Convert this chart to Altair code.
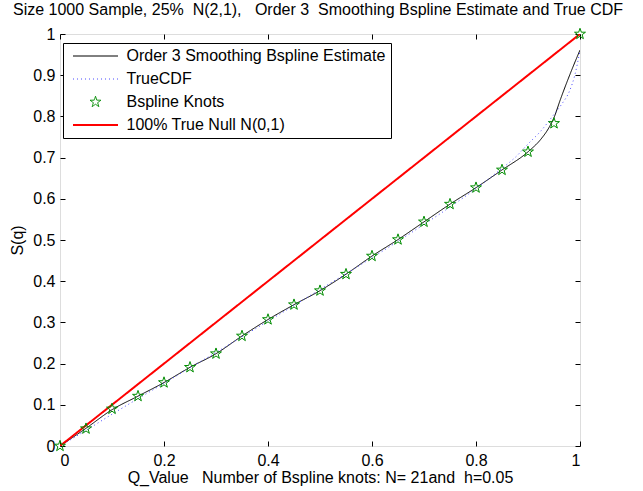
import math
import altair as alt
import pandas as pd

# Bspline knot locations and fitted values
knot_q = [0.00, 0.05, 0.10, 0.15, 0.20, 0.25, 0.30, 0.35, 0.40, 0.45, 0.50,
          0.55, 0.60, 0.65, 0.70, 0.75, 0.80, 0.85, 0.90, 0.95, 1.00]
knot_s = [0.000, 0.042, 0.090, 0.121, 0.154, 0.191, 0.224, 0.267, 0.307, 0.343, 0.377,
          0.417, 0.461, 0.501, 0.544, 0.587, 0.627, 0.670, 0.714, 0.783, 1.000]

# Order 3 smoothing Bspline estimate
est_q = [0.00, 0.05, 0.10, 0.15, 0.20, 0.25, 0.30, 0.35, 0.40, 0.45, 0.50,
         0.55, 0.60, 0.65, 0.70, 0.75, 0.80, 0.85, 0.90, 0.925, 0.94, 0.95,
         0.962, 0.981, 1.00]
est_s = [0.000, 0.043, 0.088, 0.121, 0.154, 0.191, 0.224, 0.267, 0.307, 0.343, 0.377,
         0.417, 0.461, 0.501, 0.544, 0.587, 0.627, 0.670, 0.714, 0.745, 0.772, 0.797,
         0.840, 0.903, 0.961]

# True CDF of the q-values
true_q = [0.00, 0.05, 0.10, 0.15, 0.20, 0.25, 0.30, 0.35, 0.40, 0.45, 0.50,
          0.55, 0.60, 0.65, 0.70, 0.75, 0.80, 0.85, 0.875, 0.90, 0.925, 0.95,
          0.965, 0.98, 0.99, 1.00]
true_s = [0.000, 0.038, 0.077, 0.115, 0.152, 0.190, 0.227, 0.265, 0.303, 0.341, 0.380,
          0.418, 0.457, 0.497, 0.538, 0.580, 0.625, 0.674, 0.700, 0.733, 0.765, 0.805,
          0.830, 0.862, 0.900, 0.960]

# 100% true null N(0,1): uniform q-values
null_q = [0.0, 1.0]
null_s = [0.0, 1.0]

x_ticks = [0, 0.2, 0.4, 0.6, 0.8, 1]
y_ticks = [0, 0.1, 0.2, 0.3, 0.4, 0.5, 0.6, 0.7, 0.8, 0.9, 1]

series_names = ["Order 3 Smoothing Bspline Estimate", "TrueCDF",
                "Bspline Knots", "100% True Null N(0,1)"]
series_colors = ["#000000", "#4a4aff", "#008c00", "#ff0000"]
series_dash = [[1, 0], [1, 3], [1, 0], [1, 0]]
series_width = [1, 1, 1, 2]


def star_path(outer, inner):
    pts = []
    for k in range(10):
        a = math.radians(-90 + 36 * k)
        r = outer if k % 2 == 0 else inner
        pts.append(f"{r * math.cos(a):.4f},{r * math.sin(a):.4f}")
    return "M" + "L".join(pts) + "Z"


line_sym = "M-4.5,0L4.5,0"
star_sym = star_path(1.15, 0.45)
series_shapes = [line_sym, line_sym, star_sym, line_sym]


def frame(name, qs, ss):
    return pd.DataFrame({"series": name, "q": qs, "s": ss, "i": range(len(qs))})


est_df = frame(series_names[0], est_q, est_s)
true_df = frame(series_names[1], true_q, true_s)
knot_df = frame(series_names[2], knot_q, knot_s)
null_df = frame(series_names[3], null_q, null_s)

font = "Liberation Sans"

x_scale = alt.Scale(domain=[0, 1], nice=False, zero=False)
y_scale = alt.Scale(domain=[0, 1], nice=False, zero=False)

color = alt.Color(
    "series:N",
    scale=alt.Scale(domain=series_names, range=series_colors),
    legend=alt.Legend(
        title=None, orient="none", legendX=3, legendY=9,
        symbolSize=100, symbolOffset=19.5, labelOffset=23,
        labelFont=font, labelFontSize=16, labelColor="#000000",
        labelLimit=400, padding=5, rowPadding=7,
        strokeColor="#000000", fillColor="#ffffff",
    ),
)
dash = alt.StrokeDash("series:N", scale=alt.Scale(domain=series_names, range=series_dash))
width = alt.StrokeWidth("series:N",
                        scale=alt.Scale(type="ordinal", domain=series_names, range=series_width))
shape = alt.Shape("series:N", scale=alt.Scale(domain=series_names, range=series_shapes))

# Inward-pointing ticks: short dashes at the start of each grid line
axis_common = dict(ticks=False, domain=False, grid=True, gridDash=[5, 2000],
                   gridColor="#000000", gridOpacity=1, gridWidth=1,
                   labelFont=font, labelFontSize=16, labelColor="#000000",
                   titleFont=font, titleFontSize=16, titleColor="#000000",
                   titleFontWeight="normal")

x_bottom = alt.Axis(orient="bottom", values=x_ticks, format=".1~f", labelPadding=6,
                    title="Q_Value\u00a0\u00a0 Number of Bspline knots: N= 21and\u00a0 h=0.05",
                    titlePadding=1, **axis_common)
y_left = alt.Axis(orient="left", values=y_ticks, format=".1~f", labelPadding=5,
                  title="S(q)", titlePadding=7, **axis_common)
x_top = alt.Axis(orient="top", values=x_ticks, labels=False, title=None, **axis_common)
y_right = alt.Axis(orient="right", values=y_ticks, labels=False, title=None, **axis_common)


def line_layer(df, interp, xa, ya):
    return alt.Chart(df).mark_line(interpolate=interp, clip=True).encode(
        x=alt.X("q:Q", scale=x_scale, axis=xa),
        y=alt.Y("s:Q", scale=y_scale, axis=ya),
        order="i:Q",
        color=color,
        strokeDash=dash,
        strokeWidth=width,
    )


null_layer = line_layer(null_df, "linear", x_bottom, y_left)
est_layer = line_layer(est_df, "monotone", None, None)
true_layer = line_layer(true_df, "monotone", None, None)

knot_layer = alt.Chart(knot_df).mark_point(filled=False, size=100, opacity=1).encode(
    x=alt.X("q:Q", scale=x_scale, axis=x_top),
    y=alt.Y("s:Q", scale=y_scale, axis=y_right),
    color=color,
    shape=shape,
    strokeWidth=width,
)

chart = (
    alt.layer(est_layer, true_layer, null_layer, knot_layer)
    .resolve_axis(x="independent", y="independent")
    .properties(
        width=520,
        height=412,
        autosize=alt.AutoSizeParams(type="none"),
        padding={"left": 60, "top": 34, "right": 63, "bottom": 45},
        title=alt.TitleParams(
            "Size 1000 Sample, 25%\u00a0 N(2,1),\u00a0\u00a0 Order 3\u00a0 Smoothing Bspline Estimate and True CDF",
            anchor="start", frame="group", dx=-47, offset=8, font=font, fontSize=16,
            fontWeight="normal", color="#000000",
        ),
    )
    .configure_view(stroke="#000000", strokeWidth=1)
    .configure(background="#ffffff")
)

chart.save("out.html", embed_options={"renderer": "svg", "actions": False})
